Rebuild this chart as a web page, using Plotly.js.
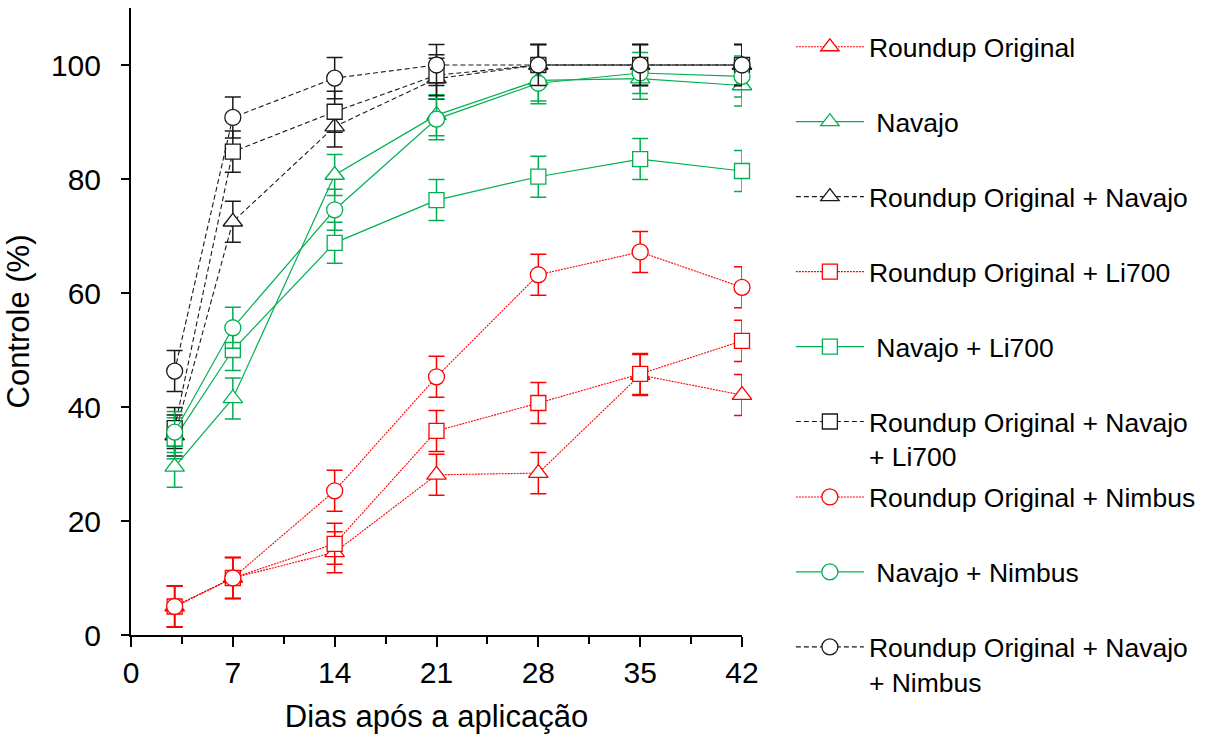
<!DOCTYPE html>
<html>
<head>
<meta charset="utf-8">
<script src="https://cdn.plot.ly/plotly-3.0.1.min.js"></script>
<style>html,body{margin:0;padding:0;background:#fff;}#chart{width:1211px;height:737px;}</style>
</head>
<body>
<div id="chart"></div>
<script>
// ---- data ----
const days = [3, 7, 14, 21, 28, 35, 42];

const seriesNames = [
  "Roundup Original",
  "\u00a0Navajo",
  "Roundup Original + Navajo",
  "Roundup Original + Li700",
  "\u00a0Navajo + Li700",
  "Roundup Original + Navajo<br>+ Li700",
  "Roundup Original + Nimbus",
  "\u00a0Navajo + Nimbus",
  "Roundup Original + Navajo<br>+ Nimbus"
];

const roundup             = [5.0, 10.0, 14.5, 28.1, 28.4, 45.6, 42.1];
const navajo              = [29.5, 41.5, 80.7, 91.2, 97.3, 97.6, 96.4];
const roundupNavajo       = [35.0, 72.5, 89.2, 97.6, 100, 100, 100];
const roundupLi700        = [5.0, 10.0, 16.0, 35.8, 40.7, 45.8, 51.6];
const navajoLi700         = [34.5, 50.0, 68.8, 76.3, 80.4, 83.5, 81.4];
const roundupNavajoLi700  = [36.3, 84.8, 91.8, 98.2, 100, 100, 100];
const roundupNimbus       = [5.0, 10.0, 25.3, 45.3, 63.2, 67.2, 61.0];
const navajoNimbus        = [35.6, 53.9, 74.6, 90.5, 96.8, 98.6, 98.0];
const roundupNavajoNimbus = [46.3, 90.8, 97.7, 100, 100, 100, 100];

const roundupErr             = [3.6, 3.6, 3.6, 3.6, 3.6, 3.6, 3.6];
const navajoErr              = [3.6, 3.6, 3.6, 3.6, 3.6, 3.6, 3.6];
const roundupNavajoErr       = [3.6, 3.6, 3.6, 3.6, 3.6, 3.6, 3.6];
const roundupLi700Err        = [3.6, 3.6, 3.6, 3.6, 3.6, 3.6, 3.6];
const navajoLi700Err         = [3.6, 3.6, 3.6, 3.6, 3.6, 3.6, 3.6];
const roundupNavajoLi700Err  = [3.6, 3.6, 3.6, 3.6, 3.6, 3.6, 3.6];
const roundupNimbusErr       = [3.6, 3.6, 3.6, 3.6, 3.6, 3.6, 3.6];
const navajoNimbusErr        = [3.6, 3.6, 3.6, 3.6, 3.6, 3.6, 3.6];
const roundupNavajoNimbusErr = [3.6, 3.6, 3.6, 3.6, 3.6, 3.6, 3.6];

const xTickVals = [0, 7, 14, 21, 28, 35, 42];
const yTickVals = [0, 20, 40, 60, 80, 100];

// ---- styles ----
const RED = "#FF0000", GREEN = "#00B050", BLACK = "#1a1a1a";
const styleFor = {
  red:   {color: RED,   dash: "2px,1px", width: 1.1},
  green: {color: GREEN, dash: "solid",   width: 1.2},
  black: {color: BLACK, dash: "5px,3px", width: 1.1}
};

const values = [roundup, navajo, roundupNavajo, roundupLi700, navajoLi700, roundupNavajoLi700, roundupNimbus, navajoNimbus, roundupNavajoNimbus];
const errs = [roundupErr, navajoErr, roundupNavajoErr, roundupLi700Err, navajoLi700Err, roundupNavajoLi700Err, roundupNimbusErr, navajoNimbusErr, roundupNavajoNimbusErr];
const colorsKey = ["red", "green", "black", "red", "green", "black", "red", "green", "black"];
const symbols = ["triangle-up", "triangle-up", "triangle-up", "square", "square", "square", "circle", "circle", "circle"];
const symbolSize = {"triangle-up": 17, "square": 15, "circle": 16};

const traces = values.map((v, i) => {
  const st = styleFor[colorsKey[i]];
  return {
    type: "scatter",
    mode: "lines+markers",
    x: days,
    y: v,
    name: seriesNames[i],
    legend: i < 6 ? "legend" : "legend2",
    legendgroup: "g" + i,
    line: {color: st.color, dash: st.dash, width: st.width},
    marker: {symbol: symbols[i], size: symbolSize[symbols[i]], color: "#ffffff", line: {color: st.color, width: 1.3}},
    error_y: {type: "data", array: errs[i], visible: true, color: st.color, thickness: 1.5, width: 8},
    hoverinfo: "skip",
    cliponaxis: false
  };
});

const FONT = "Liberation Sans, Arial, Helvetica, sans-serif";
const legendCommon = {
  xref: "paper", yref: "paper",
  xanchor: "left", yanchor: "top",
  font: {family: FONT, size: 26.5, color: "#000"},
  bgcolor: "rgba(0,0,0,0)",
  borderwidth: 0,
  itemwidth: 68,
  tracegroupgap: 37.5,
  traceorder: "grouped",
  valign: "top",
  itemclick: false, itemdoubleclick: false
};

const layout = {
  width: 1211, height: 737,
  margin: {l: 131, r: 469, t: 8, b: 102},
  paper_bgcolor: "#ffffff",
  plot_bgcolor: "#ffffff",
  font: {family: FONT, color: "#000"},
  showlegend: true,
  xaxis: {
    range: [0, 42],
    tickvals: xTickVals,
    ticks: "outside", ticklen: 10, tickwidth: 2, tickcolor: "#000",
    minor: {dtick: 3.5, tick0: 0, ticks: "outside", ticklen: 7, tickwidth: 2, tickcolor: "#000"},
    showline: true, linecolor: "#000", linewidth: 2,
    showgrid: false, zeroline: false,
    tickfont: {family: FONT, size: 30, color: "#000"},
    title: {text: "Dias após a aplicação", font: {family: FONT, size: 31, color: "#000"}, standoff: 17}
  },
  yaxis: {
    range: [0, 110],
    tickvals: yTickVals,
    ticks: "outside", ticklen: 8, tickwidth: 2, tickcolor: "#000",
    showline: true, linecolor: "#000", linewidth: 2,
    showgrid: false, zeroline: false,
    tickfont: {family: FONT, size: 30, color: "#000"},
    ticklabelstandoff: 14,
    title: {text: "Controle (%)", font: {family: FONT, size: 31, color: "#000"}, standoff: 12}
  },
  legend: Object.assign({}, legendCommon, {x: 1.08, y: 0.976}),
  legend2: Object.assign({}, legendCommon, {x: 1.08, y: 0.258})
};

Plotly.newPlot("chart", traces, layout, {displayModeBar: false, staticPlot: true});
</script>
</body>
</html>
